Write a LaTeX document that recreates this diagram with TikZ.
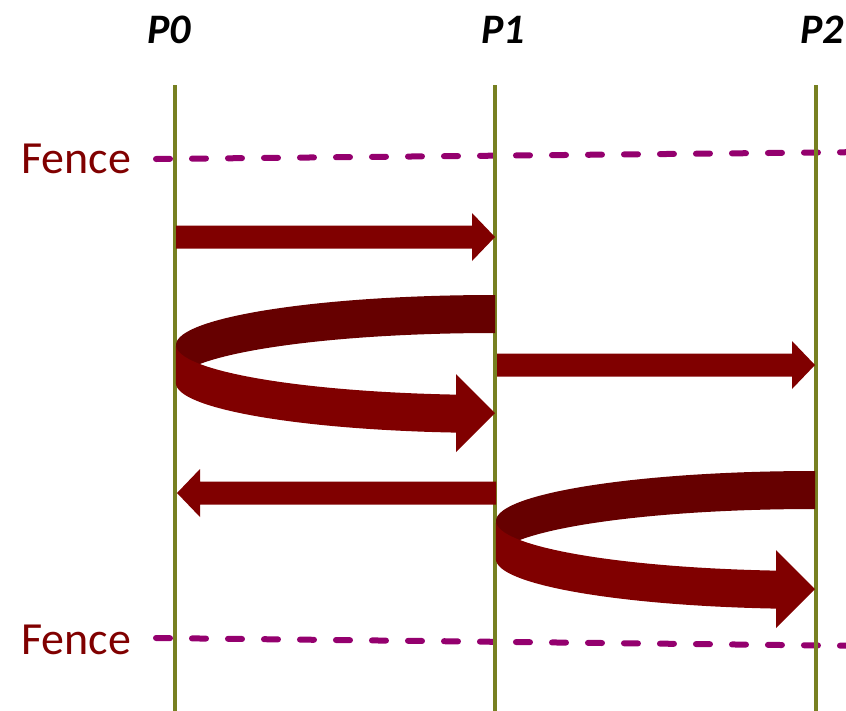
\documentclass[tikz,border=0pt]{standalone}
\usepackage{fontspec}
\setmainfont{Carlito}
\usetikzlibrary{calc}
\definecolor{procol}{RGB}{119,128,33}
\definecolor{fencecol}{RGB}{148,0,110}
\definecolor{msgred}{RGB}{128,0,0}
\definecolor{msgdark}{RGB}{102,0,0}

% straight fat arrow from #1 to the tip #2
\newcommand{\fatarrow}[2]{%
  \path ($(#2)!23pt!(#1)$) coordinate (hb);
  \fill[msgred] ([yshift=11.5pt]#1) -- ([yshift=11.5pt]hb) -- ([yshift=24pt]hb) -- (#2)
    -- ([yshift=-24pt]hb) -- ([yshift=-11.5pt]hb) -- ([yshift=-11.5pt]#1) -- cycle;
}
% curled ribbon arrow, #1 = centre of its upper ellipse
\newcommand{\ribbon}[1]{%
  \begin{scope}[shift={(#1)}]
    \fill[msgdark] (0,-50) arc[start angle=90,end angle=180,x radius=319pt,y radius=50pt]
      -- (-319,38) arc[start angle=180,end angle=90,x radius=319pt,y radius=50pt] -- cycle;
    \fill[msgred] (-319,0) arc[start angle=180,end angle=263,x radius=319pt,y radius=50pt]
      -- (-39,29) -- (0,68) -- (-39,107) -- (-39,87.6)
      arc[start angle=263,end angle=180,x radius=319pt,y radius=50pt] -- cycle;
  \end{scope}
}

\begin{document}
\begin{tikzpicture}[x=1pt,y=-1pt,
    proc/.style={line width=4pt,draw=procol},
    fenceline/.style={line width=6pt,draw=fencecol,line cap=round,dash pattern=on 14pt off 22pt},
    plabel/.style={font=\fontsize{42}{48}\selectfont\bfseries\itshape},
    flabel/.style={font=\fontsize{46}{52}\selectfont,text=msgred}]
  \useasboundingbox (0,0) rectangle (846,710);
  % processes
  \node[plabel] (p0) at (169,30) {P0};
  \node[plabel] (p1) at (503,30) {P1};
  \node[plabel] (p2) at (822,30) {P2};
  \coordinate (t0) at (175,85);  \coordinate (b0) at (175,712);
  \coordinate (t1) at (495,85);  \coordinate (b1) at (495,712);
  \coordinate (t2) at (816,85);  \coordinate (b2) at (816,712);
  % fences
  \node[flabel] (fence1) at (76,159) {Fence};
  \node[flabel] (fence2) at (76,640) {Fence};
  \coordinate (fa) at (156,159); \coordinate (fb) at (870,152);
  \coordinate (fc) at (156,638); \coordinate (fd) at (870,646);
  \draw[fenceline] (fa) -- (fb);
  \draw[fenceline] (fc) -- (fd);
  \draw[proc] (t0) -- (b0);
  \draw[proc] (t1) -- (b1);
  \draw[proc] (t2) -- (b2);
  % messages
  \coordinate (m1s) at (176,237); \coordinate (m1t) at (495,237);
  \coordinate (m2s) at (497,365); \coordinate (m2t) at (815,365);
  \coordinate (m3s) at (496,493); \coordinate (m3t) at (177,493);
  \fatarrow{m1s}{m1t}
  \fatarrow{m2s}{m2t}
  \fatarrow{m3s}{m3t}
  \coordinate (r1) at (495,345);
  \coordinate (r2) at (815,521);
  \ribbon{r1}
  \ribbon{r2}
\end{tikzpicture}
\end{document}
